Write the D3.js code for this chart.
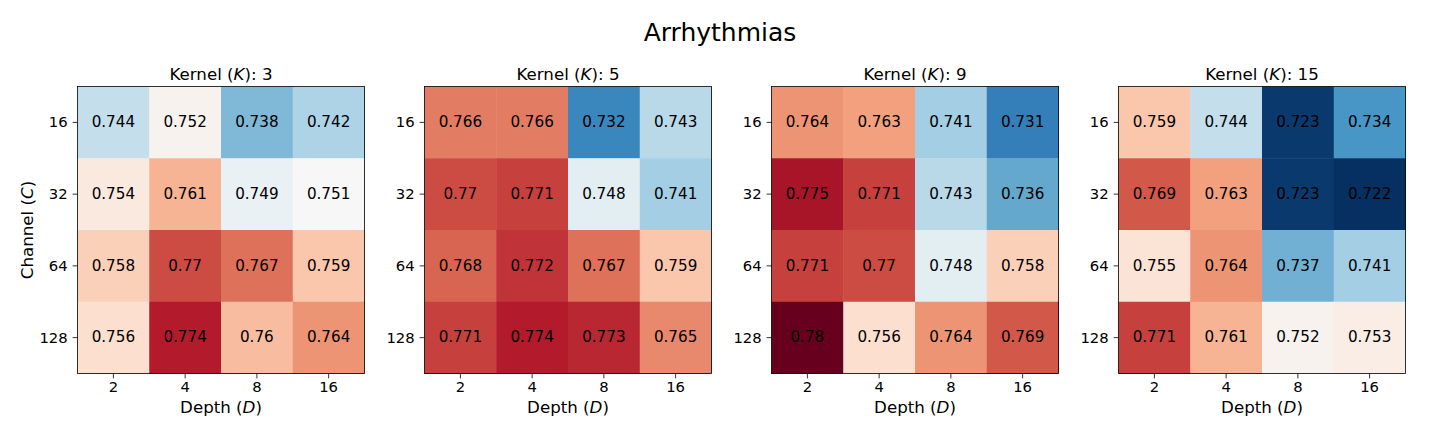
<!DOCTYPE html>
<html>
<head>
<meta charset="utf-8">
<script src="https://cdn.jsdelivr.net/npm/d3@7"></script>
<style>
  body { margin: 0; background: #fff; }
  text { font-family: "DejaVu Sans", sans-serif; fill: #000; }
  .titulo-figura { font-size: 25px; }
  .titulo-painel, .titulo-eixo { font-size: 16.67px; }
  .valor { font-size: 15.2px; }
  .eixo text { font-size: 14.8px; }
  .eixo path, .eixo line { stroke: #000; stroke-width: 0.8px; }
</style>
</head>
<body>
<svg id="grafico"></svg>
<script>
// dados
const canais = [16, 32, 64, 128];
const profundidades = [2, 4, 8, 16];
const kernels = [3, 5, 9, 15];

// linhas = canal (16, 32, 64, 128), colunas = profundidade (2, 4, 8, 16)
const valoresK3 = [
  [0.744, 0.752, 0.738, 0.742],
  [0.754, 0.761, 0.749, 0.751],
  [0.758, 0.77, 0.767, 0.759],
  [0.756, 0.774, 0.76, 0.764]
];
const valoresK5 = [
  [0.766, 0.766, 0.732, 0.743],
  [0.77, 0.771, 0.748, 0.741],
  [0.768, 0.772, 0.767, 0.759],
  [0.771, 0.774, 0.773, 0.765]
];
const valoresK9 = [
  [0.764, 0.763, 0.741, 0.731],
  [0.775, 0.771, 0.743, 0.736],
  [0.771, 0.77, 0.748, 0.758],
  [0.78, 0.756, 0.764, 0.769]
];
const valoresK15 = [
  [0.759, 0.744, 0.723, 0.734],
  [0.769, 0.763, 0.723, 0.722],
  [0.755, 0.764, 0.737, 0.741],
  [0.771, 0.761, 0.752, 0.753]
];
const paineis = [valoresK3, valoresK5, valoresK9, valoresK15];

const largura = 1440;
const altura = 432;
const svg = d3.select('#grafico').attr('width', largura).attr('height', altura);

// mapa de cores RdBu_r (mesmos pontos do matplotlib, interpolação linear)
const coresRdBu = ['#67001f', '#b2182b', '#d6604d', '#f4a582', '#fddbc7', '#f7f7f7',
                   '#d1e5f0', '#92c5de', '#4393c3', '#2166ac', '#053061'];
const todos = paineis.flat(2);
const vmin = d3.min(todos);
const vmax = d3.max(todos);
const cor = d3.scaleLinear()
    .domain(d3.range(11).map(i => vmax - i * (vmax - vmin) / 10))
    .range(coresRdBu)
    .interpolate(d3.interpolateRgb);

svg.append('text')
    .classed('titulo-figura', true)
    .attr('x', largura / 2)
    .attr('y', 41)
    .attr('text-anchor', 'middle')
    .text('Arrhythmias');

const lado = 287;
const topo = 86.5;
const passo = 347;

paineis.forEach((valores, k) => {
  const esquerda = 77.5 + k * passo;
  const g = svg.append('g').attr('transform', `translate(${esquerda}, ${topo})`);

  const x = d3.scaleBand().domain(profundidades).range([0, lado]);
  const y = d3.scaleBand().domain(canais).range([0, lado]);

  const celulas = valores.flatMap((linha, i) => linha.map((v, j) => ({c: canais[i], d: profundidades[j], v: v})));

  g.selectAll('.celula').data(celulas).enter().append('rect')
      .classed('celula', true)
      .attr('x', d => x(d.d))
      .attr('y', d => y(d.c))
      .attr('width', x.bandwidth() + 0.5)
      .attr('height', y.bandwidth() + 0.5)
      .attr('fill', d => cor(d.v));

  g.selectAll('.valor').data(celulas).enter().append('text')
      .classed('valor', true)
      .attr('x', d => x(d.d) + x.bandwidth() / 2)
      .attr('y', d => y(d.c) + y.bandwidth() / 2 + 4.8)
      .attr('text-anchor', 'middle')
      .text(d => String(d.v));

  // eixos
  const eixoX = d3.axisBottom(x).tickSize(4.9).tickPadding(4.9);
  g.append('g').classed('eixo', true)
      .attr('transform', `translate(0, ${lado})`)
      .call(eixoX)
      .call(s => s.select('.domain').remove());

  const eixoY = d3.axisLeft(y).tickSize(4.9).tickPadding(4.9);
  g.append('g').classed('eixo', true)
      .call(eixoY)
      .call(s => s.select('.domain').remove());

  g.selectAll('.eixo .tick text').attr('dy', null);
  g.selectAll('.eixo .tick text').filter(function() { return this.closest('g.eixo').getAttribute('transform'); })
      .attr('y', 18.7).attr('dominant-baseline', 'auto');
  g.selectAll('.eixo .tick text').filter(function() { return !this.closest('g.eixo').getAttribute('transform'); })
      .attr('dy', '0.33em');

  // moldura
  g.append('rect')
      .attr('width', lado)
      .attr('height', lado)
      .attr('fill', 'none')
      .attr('stroke', '#000')
      .attr('stroke-width', 0.8);

  // títulos
  const titulo = g.append('text')
      .classed('titulo-painel', true)
      .attr('x', lado / 2)
      .attr('y', 80 - topo)
      .attr('text-anchor', 'middle');
  titulo.append('tspan').text('Kernel (');
  titulo.append('tspan').attr('font-style', 'italic').text('K');
  titulo.append('tspan').text('): ' + kernels[k]);

  const rotuloX = g.append('text')
      .classed('titulo-eixo', true)
      .attr('x', lado / 2)
      .attr('y', 413 - topo)
      .attr('text-anchor', 'middle');
  rotuloX.append('tspan').text('Depth (');
  rotuloX.append('tspan').attr('font-style', 'italic').text('D');
  rotuloX.append('tspan').text(')');

  if (k === 0) {
    const rotuloY = g.append('text')
        .classed('titulo-eixo', true)
        .attr('transform', `translate(${33 - esquerda}, ${lado / 2}) rotate(-90)`)
        .attr('text-anchor', 'middle');
    rotuloY.append('tspan').text('Channel (');
    rotuloY.append('tspan').attr('font-style', 'italic').text('C');
    rotuloY.append('tspan').text(')');
  }
});
</script>
</body>
</html>
